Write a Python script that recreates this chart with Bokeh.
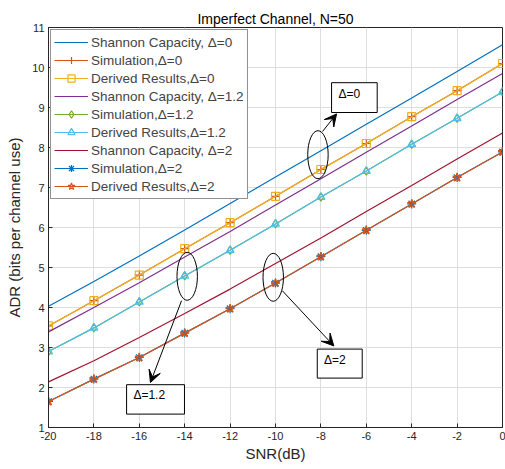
from bokeh.plotting import figure
from bokeh.models import (Legend, LegendItem, Arrow, VeeHead, FixedTicker, Range1d, Title)
from bokeh.core.properties import value
from bokeh.embed import file_html
from bokeh.resources import INLINE

snr = [-20, -18, -16, -14, -12, -10, -8, -6, -4, -2, 0]
shannon_0 = [4.03, 4.65, 5.29, 5.94, 6.60, 7.26, 7.92, 8.58, 9.24, 9.90, 10.57]
sim_0 = [3.54, 4.17, 4.81, 5.47, 6.12, 6.78, 7.45, 8.10, 8.77, 9.42, 10.10]
derived_0 = [3.54, 4.17, 4.81, 5.47, 6.12, 6.78, 7.45, 8.10, 8.77, 9.42, 10.10]
shannon_12 = [3.39, 4.00, 4.62, 5.26, 5.90, 6.56, 7.22, 7.88, 8.54, 9.20, 9.85]
sim_12 = [2.90, 3.49, 4.14, 4.79, 5.43, 6.09, 6.76, 7.41, 8.08, 8.73, 9.39]
derived_12 = [2.90, 3.49, 4.14, 4.79, 5.43, 6.09, 6.76, 7.41, 8.08, 8.73, 9.39]
shannon_2 = [2.14, 2.67, 3.25, 3.85, 4.46, 5.10, 5.74, 6.40, 7.05, 7.71, 8.36]
sim_2 = [1.65, 2.21, 2.75, 3.36, 3.97, 4.61, 5.27, 5.93, 6.59, 7.25, 7.89]
derived_2 = [1.65, 2.21, 2.75, 3.36, 3.97, 4.61, 5.27, 5.93, 6.59, 7.25, 7.89]

labels = ["Shannon Capacity, \u0394=0", "Simulation,\u0394=0", "Derived Results,\u0394=0",
          "Shannon Capacity, \u0394=1.2", "Simulation,\u0394=1.2", "Derived Results,\u0394=1.2",
          "Shannon Capacity, \u0394=2", "Simulation,\u0394=2", "Derived Results,\u0394=2"]
x_ticks = [-20, -18, -16, -14, -12, -10, -8, -6, -4, -2, 0]
y_ticks = [1, 2, 3, 4, 5, 6, 7, 8, 9, 10, 11]

# annotations (data coordinates)
ell_x = [-8.13, -13.89, -10.1]
ell_y = [7.82, 4.78, 4.755]
ell_w = [0.9, 0.9, 0.9]
ell_h = [1.2, 1.2, 1.2]
arrows = [(-7.93, 8.40, -7.31, 8.84), (-14.14, 4.17, -15.51, 2.125), (-9.70, 4.42, -7.43, 3.04)]
box_l = [-7.53, -16.56, -8.16]
box_r = [-5.52, -14.01, -6.18]
box_t = [9.62, 2.07, 2.96]
box_b = [8.875, 1.335, 2.235]
box_text = ["\u0394=0", "\u0394=1.2", "\u0394=2"]

FONT = "Liberation Sans"

p = figure(width=505, height=469, output_backend="svg", toolbar_location=None,
           x_range=Range1d(-20, 0), y_range=Range1d(1, 11),
           min_border_left=48, min_border_right=3, min_border_top=27, min_border_bottom=42)
p.title = Title(text="Imperfect Channel, N=50", align="center", text_font=FONT,
                text_font_size="14px", text_font_style="normal", text_color="#000000",
                standoff=2)
p.outline_line_color = "#262626"
p.outline_line_width = 1
p.background_fill_color = "white"
p.border_fill_color = "white"

for ax in (p.xaxis[0], p.yaxis[0]):
    ax.major_tick_in = 4
    ax.major_tick_out = 0
    ax.minor_tick_line_color = None
    ax.axis_line_color = "#262626"
    ax.major_tick_line_color = "#262626"
    ax.major_label_text_font = FONT
    ax.major_label_text_font_size = "11px"
    ax.major_label_text_color = "#262626"
    ax.axis_label_text_font = FONT
    ax.axis_label_text_font_size = "15px"
    ax.axis_label_text_font_style = "normal"
    ax.axis_label_text_color = "#262626"
p.xaxis.ticker = FixedTicker(ticks=x_ticks)
p.yaxis.ticker = FixedTicker(ticks=y_ticks)
p.xaxis.major_label_overrides = {t: str(t) for t in x_ticks}
p.yaxis.major_label_overrides = {t: str(t) for t in y_ticks}
p.xaxis.axis_label = "SNR(dB)"
p.yaxis.axis_label = "ADR (bits per channel use)"
p.xaxis.axis_label_standoff = 2
p.yaxis.axis_label_standoff = 6
p.xaxis.major_label_standoff = 4
p.yaxis.major_label_standoff = 4
p.grid.grid_line_color = "#dedede"
p.grid.grid_line_width = 1

series = [
    (shannon_0, "#0072BD", None),
    (sim_0, "#D95319", "cross"),
    (derived_0, "#EDB120", "square"),
    (shannon_12, "#7E2F8E", None),
    (sim_12, "#77AC30", "diamond"),
    (derived_12, "#4DBEEE", "triangle"),
    (shannon_2, "#A2142F", None),
    (sim_2, "#0072BD", "asterisk"),
    (derived_2, "#D95319", "star"),
]
items = []
for (ys, col, mk), lab in zip(series, labels):
    rs = [p.line(snr, ys, line_color=col, line_width=1.2)]
    if mk is not None:
        size = 9 if mk in ("cross", "asterisk", "star") else 8
        rs.append(p.scatter(snr, ys, marker=mk, size=size, line_color=col,
                            fill_color=None, line_width=1.2))
    items.append(LegendItem(label=lab, renderers=rs))

legend = Legend(items=items, location="top_left", margin=2, padding=3, spacing=0,
                label_text_font=FONT, label_text_font_size="13.5px", label_height=18,
                glyph_height=18, glyph_width=34, label_standoff=3,
                border_line_color="#262626", border_line_width=1,
                background_fill_color="white", background_fill_alpha=1.0)
p.add_layout(legend, "center")

# annotations
p.ellipse(x=ell_x, y=ell_y, width=ell_w, height=ell_h, fill_color=None,
          line_color="black", line_width=1)
for (x0, y0, x1, y1) in arrows:
    p.add_layout(Arrow(end=VeeHead(size=12, fill_color="black", line_color="black"),
                       x_start=x0, y_start=y0, x_end=x1, y_end=y1,
                       line_color="black", line_width=1))
p.quad(left=box_l, right=box_r, top=box_t, bottom=box_b, fill_color="white",
       line_color="black", line_width=1)
p.text(x=[l + 0.3 for l in box_l], y=[(t + b) / 2 + 0.1 for t, b in zip(box_t, box_b)],
       text=box_text, text_font=value(FONT), text_font_size="12px",
       text_baseline="middle", text_color="#000000")

open("out.html", "w").write(file_html(p, INLINE))
